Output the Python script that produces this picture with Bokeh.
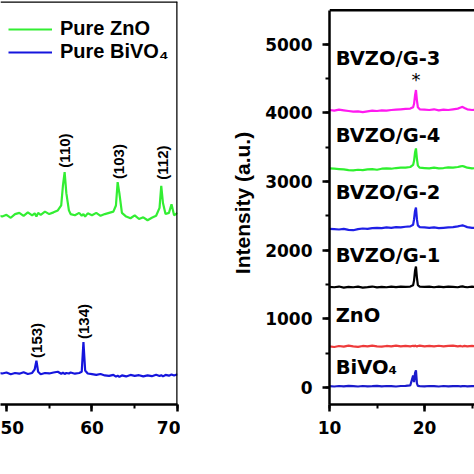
import math
from bokeh.plotting import figure
from bokeh.models import Span, Legend, LegendItem, SingleIntervalTicker, Range1d
from bokeh.layouts import row
from bokeh.core.properties import value
from bokeh.embed import file_html
from bokeh.resources import INLINE

# ---------------- Left panel data (2theta, intensity a.u.) ----------------
two_theta_left = [49.0, 49.5, 50.0, 50.5, 51.0, 51.5, 52.0, 52.5, 53.0, 53.3, 53.5,
                  53.7, 54.0, 54.5, 55.0, 55.5, 56.0, 56.4, 56.6, 56.8, 57.0,
                  57.3, 57.5, 58.0, 58.5, 58.8, 59.0, 59.2, 59.5, 60.0, 60.5,
                  61.0, 61.5, 62.0, 62.5, 62.8, 63.0, 63.2, 63.5, 64.0, 64.5,
                  65.0, 65.5, 66.0, 66.5, 67.0, 67.5, 67.9, 68.1, 68.3, 68.6,
                  69.0, 69.3, 69.6, 70.0]
pure_zno = [760, 755, 762, 750, 765, 770, 758, 772, 760, 768, 755,
            770, 762, 775, 765, 772, 780, 800, 880, 935, 850,
            780, 765, 760, 770, 758, 765, 755, 768, 760, 770,
            758, 765, 770, 775, 800, 895, 850, 770, 755, 748,
            760, 745, 752, 740, 750, 758, 790, 880, 810, 765,
            770, 805, 760, 770]
pure_bivo4 = [121, 118, 122, 115, 120, 117, 123, 116, 120, 135, 170,
              125, 115, 120, 118, 122, 125, 117, 121, 116, 120,
              118, 122, 117, 120, 125, 245, 130, 118, 115, 112,
              116, 110, 108, 112, 105, 109, 104, 110, 106, 112,
              108, 111, 106, 110, 107, 113, 108, 111, 106, 112,
              109, 114, 110, 115]
legend_labels = ["Pure ZnO", "Pure BiVO\u2084"]
left_peak_labels = ["(110)", "(103)", "(112)", "(153)", "(134)"]
left_peak_pos = [56.8, 63.05, 68.2, 53.5, 59.05]
left_label_y = [1023, 978, 974, 252, 329]

# ---------------- Right panel data ----------------
two_theta_right = [10.0, 10.5, 11.0, 11.5, 12.0, 12.5, 13.0, 13.5, 14.0, 14.5,
                   15.0, 15.5, 16.0, 16.5, 17.0, 17.5, 18.0, 18.5, 18.8, 18.9,
                   19.0, 19.1, 19.2, 19.3, 19.5, 20.0, 20.5, 21.0, 21.5, 22.0,
                   22.5, 23.0, 23.5, 23.8, 24.0, 24.2, 24.5, 25.0, 25.5]
bvzo_g3 = [4040, 4030, 4045, 4035, 4025, 4015, 4020, 4010, 4020, 4030,
           4025, 4035, 4030, 4040, 4045, 4050, 4055, 4060, 4080, 4130,
           4250, 4330, 4180, 4080, 4050, 4045, 4040, 4050, 4035, 4045,
           4040, 4050, 4060, 4075, 4085, 4070, 4050, 4040, 4045]
bvzo_g4 = [3190, 3185, 3180, 3175, 3165, 3160, 3170, 3165, 3175, 3180,
           3170, 3185, 3190, 3185, 3195, 3200, 3200, 3210, 3240, 3300,
           3420, 3480, 3330, 3230, 3200, 3195, 3190, 3200, 3190, 3195,
           3205, 3200, 3210, 3220, 3225, 3215, 3200, 3190, 3195]
bvzo_g2 = [2310, 2305, 2300, 2310, 2295, 2290, 2305, 2315, 2310, 2320,
           2325, 2320, 2330, 2325, 2335, 2330, 2340, 2345, 2370, 2450,
           2570, 2620, 2450, 2360, 2335, 2330, 2325, 2330, 2320, 2325,
           2330, 2335, 2345, 2355, 2360, 2350, 2335, 2325, 2320]
bvzo_g1 = [1465, 1460, 1470, 1455, 1465, 1460, 1468, 1455, 1462, 1470,
           1458, 1465, 1460, 1468, 1462, 1470, 1465, 1470, 1490, 1560,
           1700, 1760, 1600, 1490, 1470, 1465, 1470, 1460, 1468, 1462,
           1470, 1465, 1460, 1468, 1472, 1465, 1460, 1468, 1462]
zno = [600, 590, 605, 595, 610, 600, 592, 605, 598, 610,
       600, 595, 605, 600, 610, 598, 605, 600, 608, 600,
       610, 605, 598, 605, 610, 600, 605, 598, 608, 600,
       605, 610, 600, 605, 598, 606, 600, 605, 600]
bivo4 = [20, 15, 22, 18, 25, 20, 15, 22, 18, 20,
         25, 18, 22, 20, 15, 22, 25, 30, 175, 80,
         210, 250, 60, 25, 20, 18, 22, 20, 15, 22,
         18, 20, 22, 18, 20, 22, 18, 20, 22]
series_names = ["BVZO/G-3", "BVZO/G-4", "BVZO/G-2", "BVZO/G-1", "ZnO", "BiVO\u2084"]
series_values = [bvzo_g3, bvzo_g4, bvzo_g2, bvzo_g1, zno, bivo4]
series_colors = ["#ff19f0", "#2ef02e", "#1f1fe6", "#000000", "#ee3b3b", "#1a1acc"]
name_label_y = [4789, 3668, 2838, 1921, 1048, 291]
star_pos = 19.1
star_y = 4480

Y_TOP_RIGHT = 5490


def style_axis(ax, standoff):
    ax.axis_line_width = 2.5
    ax.axis_line_color = "black"
    ax.major_tick_line_width = 2.5
    ax.minor_tick_line_width = 2
    ax.major_tick_out = 7
    ax.major_tick_in = 0
    ax.minor_tick_out = 4
    ax.minor_tick_in = 0
    ax.major_label_text_font = "DejaVu Sans"
    ax.major_label_text_font_style = "bold"
    ax.major_label_text_font_size = "17px"
    ax.major_label_text_color = "black"
    ax.major_label_standoff = standoff


# ---------------- Left figure ----------------
p1 = figure(width=180, height=474, x_range=Range1d(49.3, 70), y_range=Range1d(-8, 1628),
            output_backend="svg", toolbar_location=None, y_axis_location=None,
            min_border_left=0, min_border_right=3, min_border_top=1, min_border_bottom=70)
p1.outline_line_color = None
p1.xgrid.visible = False
p1.ygrid.visible = False
p1.xaxis.ticker = SingleIntervalTicker(interval=10, num_minor_ticks=2)
style_axis(p1.xaxis[0], 9)

r_g = p1.line(two_theta_left, pure_zno, line_color="#33ee33", line_width=2.2)
r_b = p1.line(two_theta_left, pure_bivo4, line_color="#1515dd", line_width=2.2)

p1.add_layout(Span(location=1628, dimension="width", line_color="black", line_width=2.5))
p1.add_layout(Span(location=70, dimension="height", line_color="black", line_width=2.5))

p1.text(x=left_peak_pos, y=left_label_y, text=left_peak_labels, angle=math.pi / 2,
        text_align="center", text_baseline="middle", text_color="black",
        text_font=value("Liberation Sans"), text_font_style="bold", text_font_size="15px")

legend = Legend(items=[LegendItem(label=legend_labels[0], renderers=[r_g]),
                       LegendItem(label=legend_labels[1], renderers=[r_b])],
                location=(8, 341), margin=0, padding=0, spacing=0,
                glyph_width=44, glyph_height=20, label_standoff=8, label_height=20,
                border_line_color=None, background_fill_alpha=0,
                label_text_font="Liberation Sans", label_text_font_style="bold",
                label_text_font_size="20px", label_text_color="black")
p1.add_layout(legend)

# ---------------- Right figure ----------------
p2 = figure(width=294, height=474, x_range=Range1d(10, 25.26), y_range=Range1d(-247, 5619),
            output_backend="svg", toolbar_location=None,
            min_border_left=149, min_border_right=0, min_border_top=1, min_border_bottom=70)
p2.outline_line_color = None
p2.xgrid.visible = False
p2.ygrid.visible = False
p2.xaxis.ticker = SingleIntervalTicker(interval=10, num_minor_ticks=2)
p2.yaxis.ticker = SingleIntervalTicker(interval=1000, num_minor_ticks=2)
p2.yaxis.bounds = (-247, Y_TOP_RIGHT)
style_axis(p2.xaxis[0], 9)
style_axis(p2.yaxis[0], 10)
p2.yaxis.axis_label = "Intensity (a.u.)"
p2.yaxis.axis_label_text_font = "Liberation Sans"
p2.yaxis.axis_label_text_font_style = "bold"
p2.yaxis.axis_label_text_font_size = "21px"
p2.yaxis.axis_label_text_color = "black"
p2.yaxis.axis_label_standoff = 8

for vals, col in zip(series_values, series_colors):
    p2.line(two_theta_right, vals, line_color=col, line_width=2.2)

p2.add_layout(Span(location=Y_TOP_RIGHT, dimension="width", line_color="black", line_width=2.5))

p2.text(x=[10.65] * len(series_names), y=name_label_y, text=series_names,
        text_align="left", text_baseline="middle", text_color="black",
        text_font=value("DejaVu Sans"), text_font_style="bold", text_font_size="19.5px")
p2.text(x=[star_pos], y=[star_y], text=["*"], text_align="center", text_baseline="alphabetic",
        text_color="black", text_font=value("DejaVu Sans"), text_font_size="18px")

layout = row(p1, p2)
open("out.html", "w").write(file_html(layout, INLINE))
